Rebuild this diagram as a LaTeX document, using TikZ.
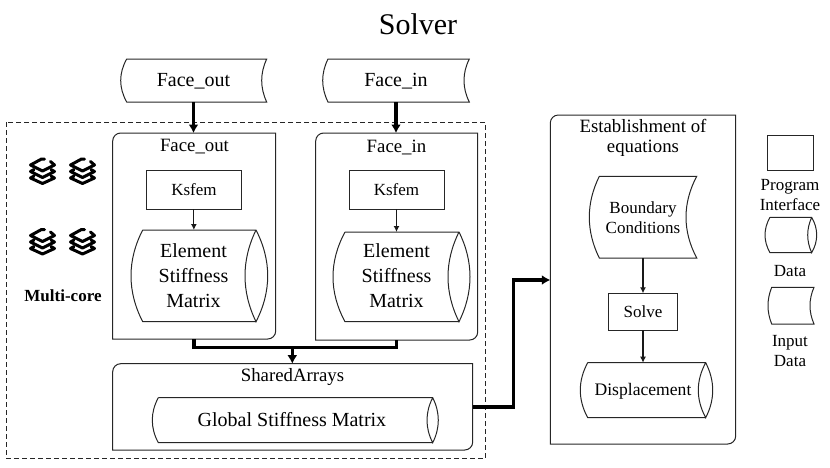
\documentclass[tikz,border=0pt]{standalone}
\usepackage{fontspec}
\setmainfont{Liberation Serif}
\usetikzlibrary{arrows.meta}
\tikzset{
  x=1pt,y=-1pt,
  outline/.style={draw=black!85,line width=1pt},
  thinflow/.style={draw=black!90,line width=1.2pt,-{Latex[length=6pt,width=6pt]}},
  thickflow/.style={draw=black,line width=3.3pt,-{Latex[length=8.5pt,width=10pt]}},
  thickline/.style={draw=black,line width=3.3pt},
  anchorbox/.style={inner sep=0pt,outer sep=0pt},
  lbl/.style={inner sep=0pt,align=center,font=\fontsize{17}{20}\selectfont},
  lblbig/.style={inner sep=0pt,align=center,font=\fontsize{20}{25}\selectfont},
  lblmid/.style={inner sep=0pt,align=center,font=\fontsize{18.8}{20}\selectfont},
}
% name, left extreme, top-left corner x, top-right corner x, inner arc x, right extreme, top; bottom from \shapebot
\newcommand{\datashape}[7]{%
  \pgfmathsetmacro{\ctlL}{#3+(#2-#3)*4/3}%
  \pgfmathsetmacro{\ctlR}{#4+(#6-#4)*4/3}%
  \pgfmathsetmacro{\ctlI}{#4+(#5-#4)*4/3}%
  \pgfmathsetmacro{\ctlYa}{#7+(\shapebot-#7)*0.33}%
  \pgfmathsetmacro{\ctlYb}{#7+(\shapebot-#7)*0.67}%
  \draw[outline] (#3,#7) -- (#4,#7)
     .. controls (\ctlR,\ctlYa) and (\ctlR,\ctlYb) .. (#4,\shapebot)
     .. controls (\ctlI,\ctlYb) and (\ctlI,\ctlYa) .. (#4,#7)
     (#4,\shapebot) -- (#3,\shapebot)
     .. controls (\ctlL,\ctlYb) and (\ctlL,\ctlYa) .. (#3,#7);
  \node[anchorbox,minimum width={#4-#3},minimum height={\shapebot-#7}] (#1) at ({(#3+#4)/2},{(#7+\shapebot)/2}) {};
}
% name, left extreme, top-left corner x, right corner x, inner arc x, top, bottom
\newcommand{\inputshape}[7]{%
  \pgfmathsetmacro{\ctlL}{#3+(#2-#3)*4/3}%
  \pgfmathsetmacro{\ctlI}{#4+(#5-#4)*4/3}%
  \pgfmathsetmacro{\ctlYa}{#6+(#7-#6)*0.33}%
  \pgfmathsetmacro{\ctlYb}{#6+(#7-#6)*0.67}%
  \draw[outline] (#3,#6) -- (#4,#6)
     .. controls (\ctlI,\ctlYa) and (\ctlI,\ctlYb) .. (#4,#7)
     -- (#3,#7)
     .. controls (\ctlL,\ctlYb) and (\ctlL,\ctlYa) .. (#3,#6) -- cycle;
  \node[anchorbox,minimum width={#4-#3},minimum height={#7-#6}] (#1) at ({(#3+#4)/2},{(#6+#7)/2}) {};
}
% container with two opposite rounded corners: name, x1, y1, x2, y2
\newcommand{\groupbox}[5]{%
  \draw[outline] (#2,#5) [rounded corners=8pt] -- (#2,#3) [sharp corners] -- (#4,#3)
     [rounded corners=8pt] -- (#4,#5) [sharp corners] -- cycle;
  \node[anchorbox,minimum width={#4-#2},minimum height={#5-#3}] (#1) at ({(#2+#4)/2},{(#3+#5)/2}) {};
}
\newcommand{\plainbox}[5]{%
  \node[outline,anchorbox,minimum width={#4-#2},minimum height={#5-#3}] (#1) at ({(#2+#4)/2},{(#3+#5)/2}) {};
}
% stacked-layers icon
\newcommand{\layers}[2]{%
  \begin{scope}[shift={(#1,#2)},line width=3pt,line cap=round,line join=round]
    \draw (2,-12) -- (-1,-12) -- (-12,-6) -- (0,0) -- (12,-6) -- (8,-9.5);
    \draw (-8.5,-1.5) -- (-12,0.5) -- (0,6.5) -- (12,0.5) -- (8.5,-1.5);
    \draw (-8.5,5) -- (-12,7) -- (0,12.5) -- (12,7) -- (8.5,5);
  \end{scope}
}
\begin{document}
\begin{tikzpicture}
\useasboundingbox (0,0) rectangle (830,467);

\node[inner sep=0pt,font=\fontsize{30}{34}\selectfont] (title) at (418,24) {Solver};

% shared-memory region
\draw[draw=black!85,line width=0.9pt,dash pattern=on 5pt off 3pt] (6,122) rectangle (485.5,458);
\node[inner sep=0pt,font=\bfseries\fontsize{17}{20}\selectfont] (multicore) at (63,296) {Multi-core};
\layers{42.5}{171}
\layers{82.5}{171}
\layers{42.5}{241.5}
\layers{82.5}{241.5}

% input data
\inputshape{inA}{120.7}{126.7}{266.7}{261.7}{59}{102}
\inputshape{inB}{322.7}{328}{469.3}{464}{59}{102}
\node[lblbig] (inAt) at (193.5,81) {Face\_out};
\node[lblbig] (inBt) at (396,81) {Face\_in};

% element assembly groups
\groupbox{gA}{112.7}{133}{275.7}{339}
\groupbox{gB}{315.7}{133}{477.7}{340}
\node[lblmid] (gAt) at (194.5,147) {Face\_out};
\node[lblmid] (gBt) at (396.5,147) {Face\_in};
\plainbox{kA}{146.7}{170.7}{241}{209}
\plainbox{kB}{349}{170.7}{444}{209}
\node[lbl] (kAt) at (194,190) {Ksfem};
\node[lbl] (kBt) at (396.5,190) {Ksfem};
\def\shapebot{321.7}
\datashape{eA}{131}{142.7}{256}{245}{267.7}{230}
\datashape{eB}{333}{345}{459}{448}{470}{232}
\node[lblbig] (eAt) at (193.5,276) {Element\\[0pt]Stiffness\\[0pt]Matrix};
\node[lblbig] (eBt) at (396.5,276) {Element\\[0pt]Stiffness\\[0pt]Matrix};

% shared storage
\groupbox{sh}{112.7}{363.7}{472.7}{450}
\node[lblmid] (sht) at (292.5,377) {SharedArrays};
\def\shapebot{442.7}
\datashape{gl}{152.3}{158.3}{432.7}{427}{438.3}{397.7}
\node[lblbig] (glt) at (292,420) {Global Stiffness Matrix};

% equation setup
\groupbox{eq}{550.3}{115}{735.7}{444}
\node[lblmid] (eqt) at (643,138) {Establishment of\\equations};
\inputshape{bc}{589.3}{599.3}{696.7}{686}{176.3}{258}
\node[lbl] (bct) at (643,217.5) {Boundary\\Conditions};
\plainbox{so}{608.3}{293.3}{677.7}{330}
\node[lbl] (sot) at (643,312) {Solve};
\def\shapebot{417.7}
\datashape{di}{580.3}{587.7}{705.7}{698.3}{712.7}{362.7}
\node[lbl,font=\fontsize{17.6}{20}\selectfont] (dit) at (643,391) {Displacement};

% key
\plainbox{kRect}{767}{135.7}{813.7}{170.7}
\node[lbl] (kRectT) at (790,195) {Program\\Interface};
\def\shapebot{252.7}
\datashape{kData}{765}{770}{811.7}{807.7}{816.7}{217.3}
\node[lbl] (kDataT) at (790,271) {Data};
\inputshape{kIn}{768}{771.7}{814}{810}{287.3}{324}
\node[lbl] (kInT) at (790,351.5) {Input\\Data};

% thin flow inside groups
\draw[thinflow] (kA.south) -- (kA.south |- eA.north);
\draw[thinflow] (kB.south) -- (kB.south |- eB.north);
\draw[thinflow] (so.north |- bc.south) -- (so.north);
\draw[thinflow] (so.south) -- (so.south |- di.north);

% thick flow between groups
\draw[thickflow] (inAt.center |- inA.south) -- (inAt.center |- gA.north);
\draw[thickflow] (inBt.center |- inB.south) -- (inBt.center |- gB.north);
\coordinate (mergeL) at (194,347.3);
\coordinate (mergeR) at (396.7,347.3);
\coordinate (mergeM) at (292.3,347.3);
\draw[thickline,line join=miter] (mergeL |- gA.south) -- (mergeL) -- (mergeR) -- (mergeR |- gB.south);
\draw[thickflow] (mergeM) -- (mergeM |- sh.north);
\coordinate (bend1) at (513.3,407);
\coordinate (bend2) at (513.3,280);
\draw[thickflow,line join=miter] (sh.east |- bend1) -- (bend1) -- (bend2) -- (eq.west |- bend2);
\end{tikzpicture}
\end{document}
